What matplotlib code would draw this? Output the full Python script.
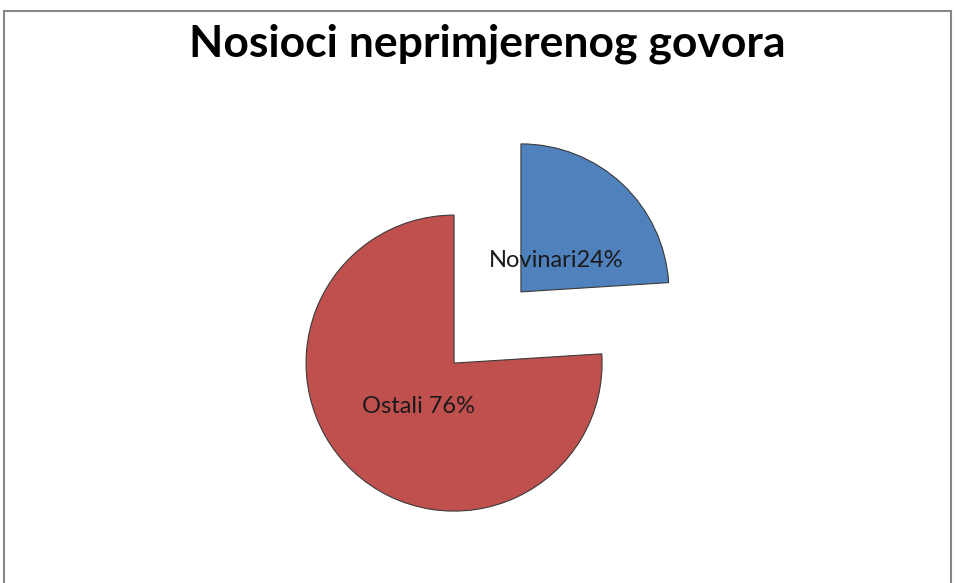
import numpy as np
import matplotlib.pyplot as plt
from matplotlib.patches import Rectangle

plt.rcParams['font.family'] = ['Lato', 'DejaVu Sans']

title = "Nosioci neprimjerenog govora"
labels = ["Novinari24%", "Ostali 76%"]
values = [24, 76]
colors = ["#4F81BD", "#C0504D"]
explode = [0.33, 0.33]

W, H = 955, 583
fig = plt.figure(figsize=(W / 100, H / 100), dpi=100)

# border of the chart area
fig.patches.append(Rectangle((4 / W, -0.05), 947 / W, (H - 11) / H + 0.05,
                             transform=fig.transFigure, fill=False,
                             edgecolor="#868686", linewidth=1.5))

ax = fig.add_axes([0, 0, 1, 1])
r = 148.0
cx, cy = 487.5, H - 327.5
wedges, texts = ax.pie(values, labels=labels, colors=colors, explode=explode,
                       startangle=90, counterclock=False, labeldistance=0.35,
                       wedgeprops=dict(edgecolor="#3a3a3a", linewidth=0.8),
                       textprops=dict(fontsize=17, color="#1a1a1a"))
for t in texts:
    t.set_ha("center")
    t.set_va("center")
    x, y = t.get_position()
    t.set_position((x, y - 6 / r))

ax.set_xlim(-cx / r, (W - cx) / r)
ax.set_ylim(-cy / r, (H - cy) / r)
ax.set_aspect("equal")
ax.axis("off")

fig.text(487.5 / W, 1 - 44 / H, title, ha="center", va="center",
         fontsize=32, fontweight="bold", color="black")

plt.savefig("out.png", dpi=100)
